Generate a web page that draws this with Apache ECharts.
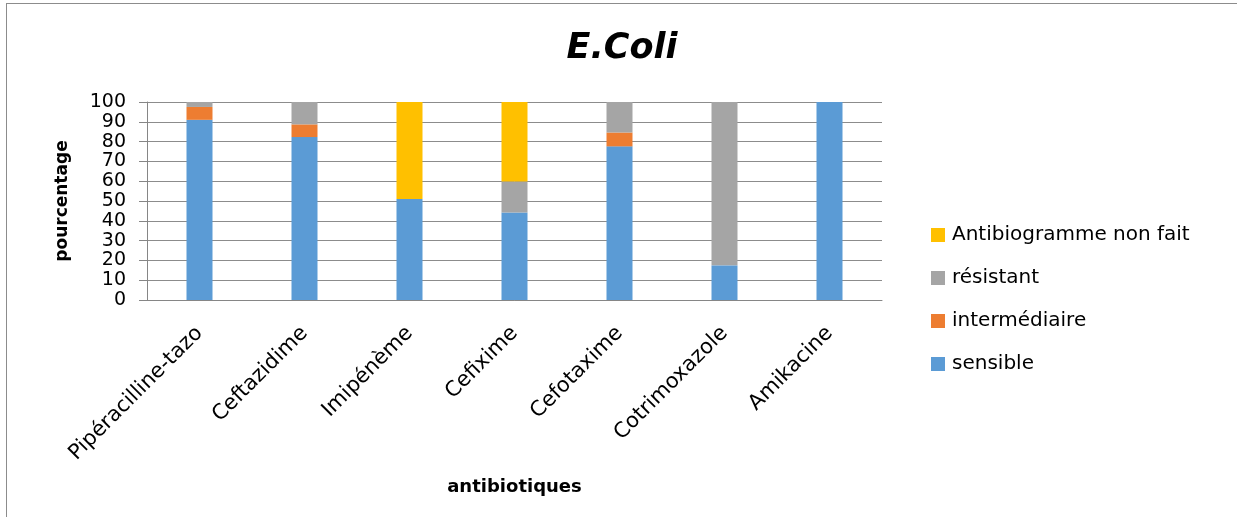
<!DOCTYPE html>
<html><head><meta charset="utf-8">
<script src="https://cdn.jsdelivr.net/npm/echarts@6/dist/echarts.min.js"></script>
<style>
html,body{margin:0;padding:0;background:#fff;}
#frame{position:absolute;left:6px;top:3px;width:1231px;height:514px;border-left:1px solid #8c8c8c;border-top:1px solid #8c8c8c;}
#c{position:absolute;left:0;top:0;width:1237px;height:517px;}
</style></head>
<body>
<div id="frame"></div>
<div id="c"></div>
<script>
const categories = ['Pipéracilline-tazo','Ceftazidime','Imipénème','Cefixime','Cefotaxime','Cotrimoxazole','Amikacine'];
const sensible = [91, 82.3, 51, 44.2, 77.6, 17.5, 100];
const intermediaire = [6.5, 6.4, 0, 0, 7, 0, 0];
const resistant = [2.5, 11.3, 0, 15.6, 15.4, 82.5, 0];
const nonFait = [0, 0, 49, 40.2, 0, 0, 0];
const yTicks = [0,10,20,30,40,50,60,70,80,90,100];

const font = 'DejaVu Sans';
const chart = echarts.init(document.getElementById('c'));
function ser(name, data, color){
  return {name, type:'bar', stack:'a', data, barWidth:26, itemStyle:{color}, emphasis:{disabled:true}};
}
chart.setOption({
  animation:false,
  textStyle:{fontFamily:font},
  title:{text:'E.Coli', left:617, top:26, textAlign:'center',
    textStyle:{fontSize:35, fontStyle:'italic', fontWeight:'bold', color:'#000', fontFamily:font}},
  grid:{left:147, right:355, top:102, bottom:217},
  legend:{orient:'vertical', left:926, top:220, itemWidth:14, itemHeight:14, itemGap:23,
    icon:'rect', textStyle:{fontSize:20, color:'#000', fontFamily:font, padding:[0,0,0,2]},
    data:['Antibiogramme non fait','résistant','intermédiaire','sensible']},
  xAxis:{type:'category', data:categories,
    name:'antibiotiques', nameLocation:'middle', nameGap:178,
    nameTextStyle:{fontSize:18, fontWeight:'bold', color:'#000', fontFamily:font},
    axisLine:{lineStyle:{color:'#868686'}}, axisTick:{show:false},
    axisLabel:{rotate:45, fontSize:21, color:'#000', margin:30, interval:0, fontFamily:font}},
  yAxis:{type:'value', min:0, max:100, interval:10,
    name:'pourcentage', nameLocation:'middle', nameGap:76,
    nameTextStyle:{fontSize:17, fontWeight:'bold', color:'#000', fontFamily:font},
    axisLine:{show:true, lineStyle:{color:'#868686'}},
    axisTick:{show:true, length:8, lineStyle:{color:'#868686'}},
    axisLabel:{fontSize:19, lineHeight:12, color:'#000', margin:21, fontFamily:font,
      showMaxLabel:true, showMinLabel:true, hideOverlap:false,
      formatter:v=>yTicks.includes(v)?String(v):''},
    splitLine:{lineStyle:{color:'#8c8c8c'}}},
  series:[
    ser('sensible', sensible, '#5B9BD5'),
    ser('intermédiaire', intermediaire, '#ED7D31'),
    ser('résistant', resistant, '#A5A5A5'),
    ser('Antibiogramme non fait', nonFait, '#FFC000')
  ]
});
</script>
</body></html>
